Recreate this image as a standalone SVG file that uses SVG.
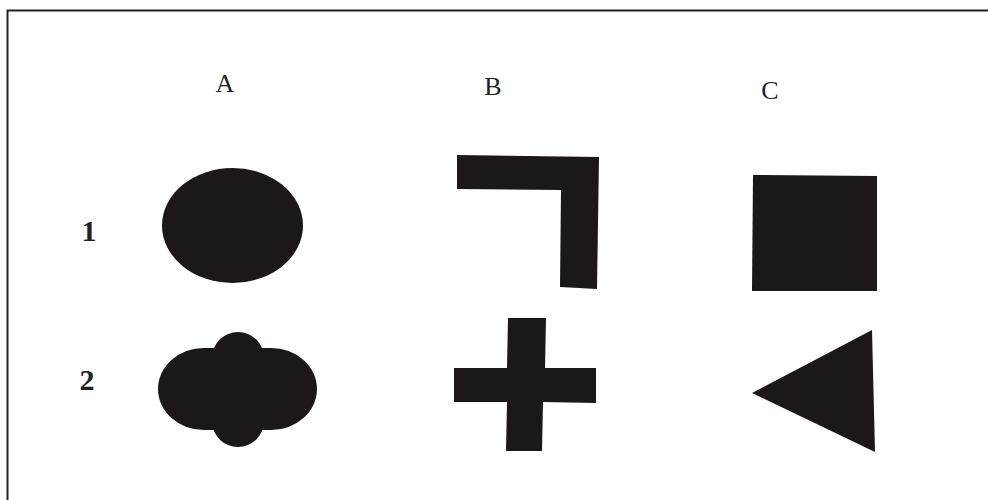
<svg xmlns="http://www.w3.org/2000/svg" width="988" height="500" viewBox="0 0 988 500">
<style>
.shape{fill:#1c1819}
.lbl{font-family:"Liberation Serif","Times New Roman",serif;font-size:26px;fill:#222;text-anchor:middle}
.num{font-family:"Liberation Serif","Times New Roman",serif;font-size:30px;font-weight:bold;fill:#222;text-anchor:middle}
</style>
<rect width="988" height="500" fill="#fff"/>
<path d="M7.5 500 V10.5 H988" fill="none" stroke="#222" stroke-width="2"/>
<g id="labels">
<text class="lbl" x="225" y="92">A</text>
<text class="lbl" x="493" y="95">B</text>
<text class="lbl" x="770" y="99">C</text>
<text class="num" x="89" y="241">1</text>
<text class="num" x="87" y="390">2</text>
</g>
<g id="A1"><ellipse class="shape" cx="232.5" cy="225.5" rx="70.5" ry="57.5"/></g>
<g id="A2">
<rect class="shape" x="158" y="348" width="159" height="82" rx="46" ry="41"/>
<circle class="shape" cx="238" cy="358" r="26"/>
<circle class="shape" cx="238" cy="421" r="26"/>
</g>
<g id="B1"><polygon class="shape" points="457,155 599,157 597,289 560,287 561,190 457,189"/></g>
<g id="B2"><polygon class="shape" points="508,318 546,318 545,368 596,368 596,403 543,402 542,451 506,451 507,402 454,402 454,368 507,368"/></g>
<g id="C1"><polygon class="shape" points="753,175 877,176 877,291 752,291"/></g>
<g id="C2"><polygon class="shape" points="872,330 875,452 752,393"/></g>
</svg>
